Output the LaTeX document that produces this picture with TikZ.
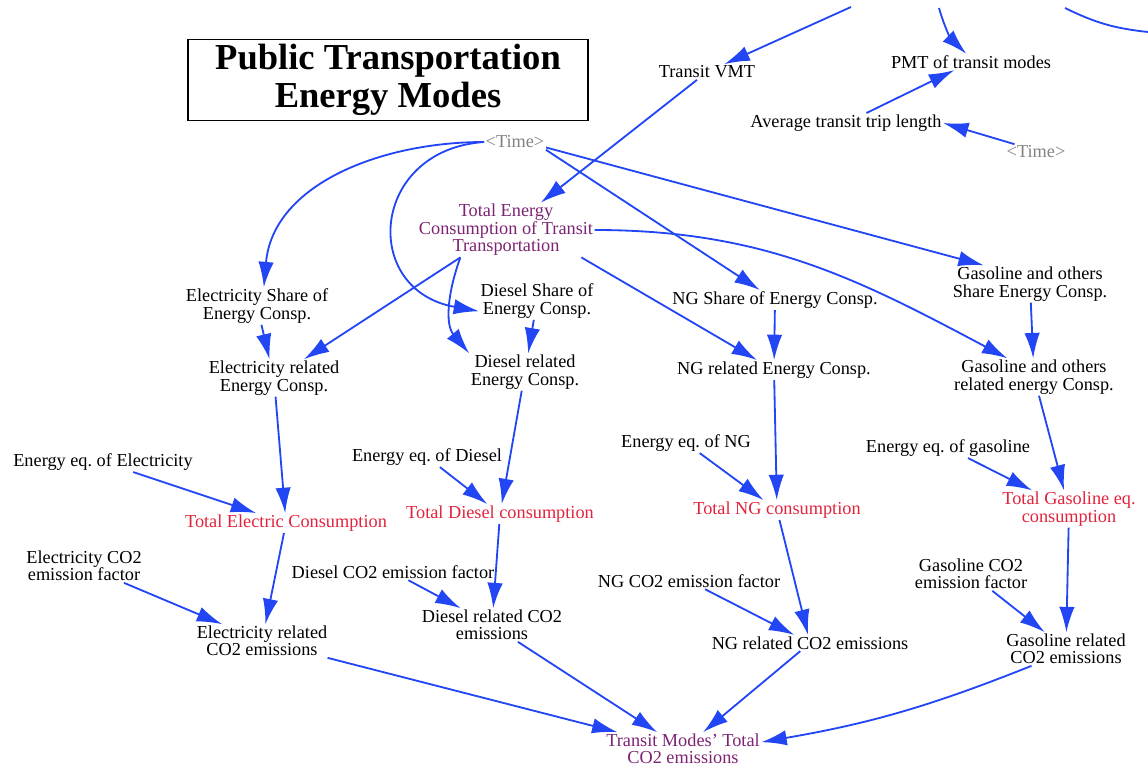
\documentclass[tikz,border=0pt]{standalone}
\usepackage{fontspec}
\setmainfont{Liberation Serif}
\usetikzlibrary{arrows.meta}
\definecolor{linkblue}{RGB}{35,70,245}
\definecolor{totred}{RGB}{225,35,60}
\definecolor{sumpurple}{RGB}{125,35,115}
\definecolor{shadowgray}{RGB}{130,130,130}
\frenchspacing
\begin{document}
\begin{tikzpicture}[x=0.025cm, y=-0.025cm,
    var/.style={align=center, inner sep=1pt, font=\fontsize{13}{12.4}\selectfont},
    total/.style={var, text=totred},
    sum/.style={var, text=sumpurple},
    shadow/.style={var, text=shadowgray},
    link/.style={draw=linkblue, line width=1.3pt, -{Latex[length=18pt, width=11pt]}}]

        \useasboundingbox (0, 0) rectangle (1148, 767);

        \draw (388, 80) node[draw, line width=1.2pt, minimum width=10cm, minimum height=1.9cm, align=center, font=\fontsize{26}{27}\selectfont\bfseries] (title) {Public Transportation\\Energy Modes};

        % top
        \draw (707, 72) node[var] (vmt) {Transit VMT};
        \draw (971, 62) node[var] (pmt) {PMT of transit modes};
        \draw (846, 123) node[var] (avg) {Average transit trip length};
        \draw (1036, 152) node[shadow] (time2) {\textless Time\textgreater};
        \draw (515, 142) node[shadow] (time) {\textless Time\textgreater};
        \draw (506, 230) node[sum] (te) {Total Energy\\Consumption of Transit\\Transportation};
        \coordinate (up1) at (851, 7);
        \coordinate (up2) at (939, 8);
        \coordinate (up3) at (1065, 8);
        \coordinate (up4) at (1148, 32);

        % shares and related energy
        \draw (257, 306) node[var] (es) {Electricity Share of\\Energy Consp.};
        \draw (537, 301) node[var] (ds) {Diesel Share of\\Energy Consp.};
        \draw (775, 300) node[var] (ns) {NG Share of Energy Consp.};
        \draw (1030, 284) node[var] (gs) {Gasoline and others\\Share Energy Consp.};
        \draw (274, 378) node[var] (er) {Electricity related\\Energy Consp.};
        \draw (525, 372) node[var] (dr) {Diesel related\\Energy Consp.};
        \draw (774, 370) node[var] (nr) {NG related Energy Consp.};
        \draw (1034, 377) node[var] (gr) {Gasoline and others\\related energy Consp.};

        % consumption
        \draw (103, 462) node[var] (eqe) {Energy eq. of Electricity};
        \draw (286, 523) node[total] (tel) {Total Electric Consumption};
        \draw (427, 457) node[var] (eqd) {Energy eq. of Diesel};
        \draw (500, 514) node[total] (tdi) {Total Diesel consumption};
        \draw (686, 443) node[var] (eqn) {Energy eq. of NG};
        \draw (777, 510) node[total] (tng) {Total NG consumption};
        \draw (948, 448) node[var] (eqg) {Energy eq. of gasoline};
        \draw (1069, 509) node[total] (tga) {Total Gasoline eq.\\consumption};

        % emissions
        \draw (84, 566) node[var] (cfe) {Electricity CO2\\emission factor};
        \draw (262, 641) node[var] (ce) {Electricity related\\CO2 emissions};
        \draw (393, 572) node[var] (cfd) {Diesel CO2 emission factor};
        \draw (492, 625) node[var] (cd) {Diesel related CO2\\emissions};
        \draw (689, 581) node[var] (cfn) {NG CO2 emission factor};
        \draw (810, 643) node[var] (cn) {NG related CO2 emissions};
        \draw (971, 574) node[var] (cfg) {Gasoline CO2\\emission factor};
        \draw (1066, 649) node[var] (cg) {Gasoline related\\CO2 emissions};
        \draw (683, 749) node[sum] (tc) {Transit Modes' Total\\CO2 emissions};

        \draw[link] (up1) -- (vmt);
        \draw[link] (up2) to[bend right=15] (pmt.120);
        \draw[linkblue, line width=1.3pt] (up3) to[bend right=10] (up4);
        \draw[link] (avg) -- (pmt);
        \draw[link] (time2.160) -- (avg.east);
        \draw[link] (vmt) -- (te);
        \draw[link] (time.west) to[out=180, in=85] (es.70);
        \draw[link] (time.west) .. controls (370, 150) and (360, 290) .. (ds.190);
        \draw[link] (time.south east) -- (ns);
        \draw[link] (time.-10) -- (gs.158);
        \draw[link] (te.211) -- (er.32);
        \draw[link] (te.211) to[out=250, in=130] (dr.north west);
        \draw[link] (te.-20) -- (nr);
        \draw[link] (te.east) to[out=0, in=152] (gr.145);
        \draw[link] (es) -- (er);
        \draw[link] (ds) -- (dr);
        \draw[link] (ns) -- (nr);
        \draw[link] (gs) -- (gr);
        \draw[link] (er) -- (tel);
        \draw[link] (eqe) -- (tel);
        \draw[link] (dr) -- (tdi);
        \draw[link] (eqd) -- (tdi);
        \draw[link] (nr) -- (tng);
        \draw[link] (eqn) -- (tng);
        \draw[link] (gr) -- (tga);
        \draw[link] (eqg) -- (tga);
        \draw[link] (tel) -- (ce);
        \draw[link] (cfe) -- (ce);
        \draw[link] (tdi) -- (cd);
        \draw[link] (cfd) -- (cd);
        \draw[link] (tng) -- (cn);
        \draw[link] (cfn) -- (cn);
        \draw[link] (tga) -- (cg);
        \draw[link] (cfg) -- (cg);
        \draw[link] (ce) -- (tc);
        \draw[link] (cd) -- (tc);
        \draw[link] (cn) -- (tc);
        \draw[link] (cg.206) to[bend left=6] (tc.5);

\end{tikzpicture}
\end{document}
